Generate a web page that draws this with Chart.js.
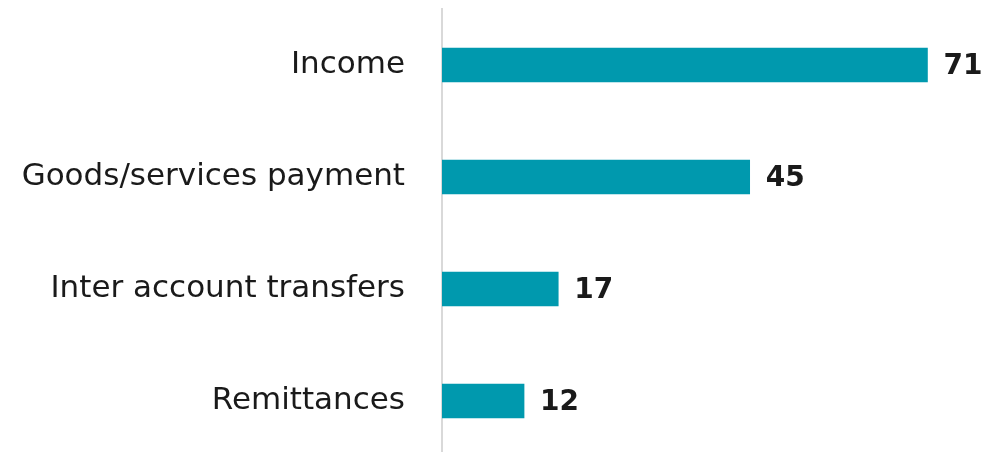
<!DOCTYPE html>
<html>
<head>
<meta charset="utf-8">
<script src="https://cdn.jsdelivr.net/npm/chart.js@4/dist/chart.umd.min.js"></script>
<style>
  html, body { margin: 0; padding: 0; background: #fff; overflow: hidden; }
  canvas { display: block; }
</style>
</head>
<body>
<canvas id="barChart" width="991" height="457"></canvas>
<script>
// ----- Chart data -----
const categories = ['Income', 'Goods/services payment', 'Inter account transfers', 'Remittances'];
const values = [71, 45, 17, 12];
const axisMax = 80;

// draws the number just past the end of each bar
const valueLabels = {
  id: 'valueLabels',
  afterDatasetsDraw(chart) {
    const ctx = chart.ctx;
    const meta = chart.getDatasetMeta(0);
    ctx.save();
    ctx.font = 'bold 28px "DejaVu Sans"';
    ctx.fillStyle = '#1a1a1a';
    ctx.textAlign = 'left';
    ctx.textBaseline = 'middle';
    meta.data.forEach((bar, i) => {
      ctx.fillText(values[i], bar.x + 16, bar.y + 2);
    });
    ctx.restore();
  }
};

const ctx = document.getElementById('barChart').getContext('2d');
new Chart(ctx, {
  type: 'bar',
  data: {
    labels: categories,
    datasets: [{
      data: values,
      backgroundColor: '#0099ae',
      barThickness: 34,
      borderWidth: 0
    }]
  },
  options: {
    indexAxis: 'y',
    responsive: false,
    animation: false,
    layout: { padding: { top: 9, right: 2, bottom: 0, left: 0 } },
    scales: {
      x: {
        display: false,
        min: 0,
        max: axisMax
      },
      y: {
        afterFit(scale) {
          scale.width = 442;
          scale.paddingTop = 0;
          scale.paddingBottom = 0;
        },
        grid: { display: false, drawTicks: false },
        border: { display: true, color: '#d9d9d9', width: 2 },
        ticks: {
          color: '#1a1a1a',
          padding: 37,
          font: { family: '"DejaVu Sans"', size: 31 }
        }
      }
    },
    plugins: {
      legend: { display: false },
      tooltip: { enabled: false }
    }
  },
  plugins: [valueLabels]
});
</script>
</body>
</html>
